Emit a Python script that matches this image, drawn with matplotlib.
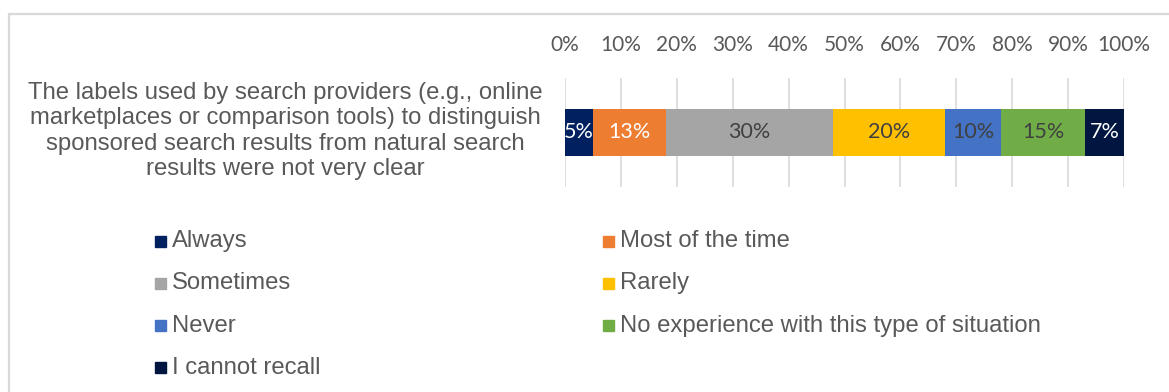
import matplotlib
matplotlib.use("Agg")
import matplotlib.pyplot as plt
from matplotlib.patches import Rectangle

# survey answer shares (percent)
question = ("The labels used by search providers (e.g., online\n"
            "marketplaces or comparison tools) to distinguish\n"
            "sponsored search results from natural search\n"
            "results were not very clear")
answers = ["Always", "Most of the time", "Sometimes", "Rarely", "Never",
           "No experience with this type of situation", "I cannot recall"]
shares = [5, 13, 30, 20, 10, 15, 7]
colors = ["#002060", "#ED7D31", "#A5A5A5", "#FFC000", "#4472C4", "#70AD47", "#00153F"]
label_colors = ["white", "white", "#404040", "#404040", "#404040", "#404040", "white"]
ticks = [0, 10, 20, 30, 40, 50, 60, 70, 80, 90, 100]

W, H = 1169, 392
fig = plt.figure(figsize=(W / 100, H / 100), dpi=100)
gray = "#595959"

# light frame round the chart area
fig.patches.append(Rectangle((9 / W, -0.1), 1.2, 1 - 14 / H + 0.1, transform=fig.transFigure,
                             fill=False, edgecolor="#D9D9D9", linewidth=1.6))

ax = fig.add_axes([565 / W, 1 - 187 / H, (1124 - 565) / W, (187 - 78) / H])
left = 0
for val, col, lc in zip(shares, colors, label_colors):
    ax.barh(0, val, left=left, height=0.43, color=col, zorder=3)
    ax.text(left + val / 2, 0, f"{val}%", ha="center", va="center",
            color=lc, fontsize=15.5, family="Lato", zorder=4)
    left += val

ax.set_xlim(0, 100)
ax.set_ylim(-0.5, 0.5)
ax.set_xticks(ticks)
ax.set_xticklabels([f"{t}%" for t in ticks], family="Lato", fontsize=15, color=gray)
ax.xaxis.tick_top()
ax.tick_params(axis="x", length=0, pad=16.5)
ax.set_yticks([])
ax.grid(axis="x", color="#D9D9D9", linewidth=1.2, zorder=0)
for s in ax.spines.values():
    s.set_visible(False)

fig.text(285 / W, 1 - 131 / H, question, ha="center", va="center", multialignment="center",
         fontsize=17.2, color=gray, family="Liberation Sans", linespacing=1.18)

# legend laid out in two columns, row by row
for i, (name, col) in enumerate(zip(answers, colors)):
    row, c = divmod(i, 2)
    x0 = 155 if c == 0 else 603
    yc = 241 + row * 42.3
    fig.patches.append(Rectangle((x0 / W, 1 - (yc + 5.5) / H), 11 / W, 11 / H,
                                 transform=fig.transFigure, color=col))
    fig.text((x0 + 17) / W, 1 - yc / H, name, ha="left", va="center",
             fontsize=17.2, color=gray, family="Liberation Sans")

fig.savefig("out.png", dpi=100, facecolor="white")
